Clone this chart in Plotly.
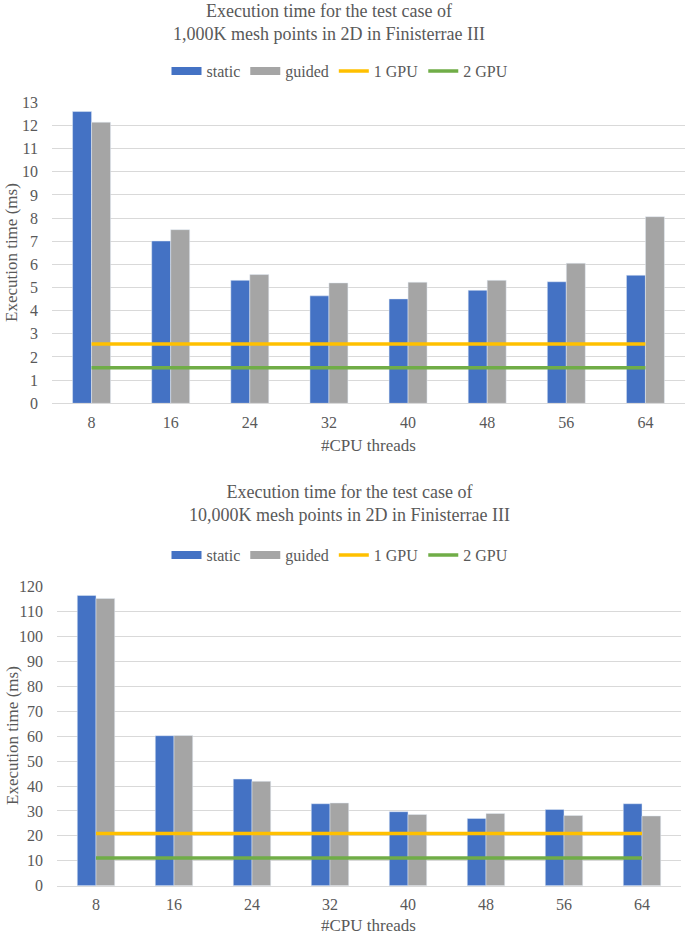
import plotly.graph_objects as go

threads = ["8", "16", "24", "32", "40", "48", "56", "64"]

static_1k = [12.6, 7.01, 5.31, 4.64, 4.51, 4.88, 5.25, 5.53]
guided_1k = [12.14, 7.50, 5.56, 5.20, 5.23, 5.31, 6.05, 8.06]
gpu1_1k = [2.56] * 8
gpu2_1k = [1.54] * 8

static_10k = [116.5, 60.2, 42.8, 32.9, 29.7, 27.0, 30.6, 32.9]
guided_10k = [115.3, 60.3, 41.9, 33.2, 28.6, 29.0, 28.2, 28.0]
gpu1_10k = [21.0] * 8
gpu2_10k = [11.1] * 8

title_top = "Execution time for the test case of<br>1,000K mesh points in 2D in Finisterrae III"
title_bot = "Execution time for the test case of<br>10,000K mesh points in 2D in Finisterrae III"
y_title = "Execution time (ms)"
x_title = "#CPU threads"

BLUE = "#4472C4"
GRAY = "#A5A5A5"
YELLOW = "#FFC000"
GREEN = "#70AD47"
GRID = "#D9D9D9"
TXT = "#595959"
FONT = "Liberation Serif"

W, H = 685, 937

fig = go.Figure()


def add_set(st, gu, g1, g2, xa, ya, leg):
    fig.add_trace(go.Bar(x=threads, y=st, name="static", marker=dict(color=BLUE),
                         xaxis=xa, yaxis=ya, showlegend=False))
    fig.add_trace(go.Bar(x=threads, y=gu, name="guided", marker=dict(color=GRAY),
                         xaxis=xa, yaxis=ya, showlegend=False))
    fig.add_trace(go.Scatter(x=threads, y=g1, name="1 GPU", mode="lines",
                             line=dict(color=YELLOW, width=3.5), xaxis=xa, yaxis=ya,
                             showlegend=False))
    fig.add_trace(go.Scatter(x=threads, y=g2, name="2 GPU", mode="lines",
                             line=dict(color=GREEN, width=3.5), xaxis=xa, yaxis=ya,
                             showlegend=False))
    # legend entries (Excel-style wide swatches)
    for nm, col, w in [("static", BLUE, 8), ("guided", GRAY, 8),
                       ("1 GPU", YELLOW, 3.5), ("2 GPU", GREEN, 3.5)]:
        fig.add_trace(go.Scatter(x=[None], y=[None], name=nm, mode="lines",
                                 line=dict(color=col, width=w), xaxis=xa, yaxis=ya,
                                 legend=leg, showlegend=True, hoverinfo="skip"))


add_set(static_1k, guided_1k, gpu1_1k, gpu2_1k, "x", "y", "legend")
add_set(static_10k, guided_10k, gpu1_10k, gpu2_10k, "x2", "y2", "legend2")


def px_x(p):
    return p / W


def px_y(p):
    return (H - p) / H


axis_font = dict(family=FONT, size=16, color=TXT)

xcommon = dict(type="category", showgrid=False, showline=True, linecolor=GRID, linewidth=1,
               ticks="", tickfont=axis_font, ticklabelstandoff=4, fixedrange=True,
               automargin=False)
ycommon = dict(showgrid=True, gridcolor=GRID, gridwidth=1, zeroline=False, showline=False,
               ticks="", tickfont=axis_font, ticklabelstandoff=13, fixedrange=True,
               automargin=False)

legend_common = dict(orientation="h", x=0.5, xanchor="center", yanchor="middle",
                     font=dict(family=FONT, size=16, color=TXT), itemwidth=30,
                     traceorder="normal", bgcolor="rgba(0,0,0,0)")

fig.update_layout(
    width=W, height=H,
    margin=dict(l=0, r=0, t=0, b=0),
    paper_bgcolor="white", plot_bgcolor="white",
    barmode="group", bargap=0.52, bargroupgap=0,
    font=dict(family=FONT, color=TXT),
    xaxis=dict(domain=[px_x(52), px_x(685)], anchor="y", **xcommon),
    yaxis=dict(domain=[px_y(403.3), px_y(102.3)], anchor="x", range=[0, 13], dtick=1, **ycommon),
    xaxis2=dict(domain=[px_x(57), px_x(681)], anchor="y2", **xcommon),
    yaxis2=dict(domain=[px_y(885.7), px_y(586.7)], anchor="x2", range=[0, 120], dtick=10, **ycommon),
    legend=dict(y=px_y(71), x=px_x(340), **{k: v for k, v in legend_common.items() if k != "x"}),
    legend2=dict(y=px_y(555), x=px_x(340), **{k: v for k, v in legend_common.items() if k != "x"}),
    showlegend=True,
)

annots = [
    dict(text=title_top, x=px_x(329), y=px_y(23), xanchor="center", yanchor="middle",
         font=dict(family=FONT, size=18, color=TXT)),
    dict(text=title_bot, x=px_x(349), y=px_y(503), xanchor="center", yanchor="middle",
         font=dict(family=FONT, size=18, color=TXT)),
    dict(text=y_title, x=px_x(12), y=px_y(253), textangle=-90, xanchor="center", yanchor="middle",
         font=dict(family=FONT, size=17, color=TXT)),
    dict(text=y_title, x=px_x(12), y=px_y(736), textangle=-90, xanchor="center", yanchor="middle",
         font=dict(family=FONT, size=17, color=TXT)),
    dict(text=x_title, x=px_x(368), y=px_y(445), xanchor="center", yanchor="middle",
         font=dict(family=FONT, size=17, color=TXT)),
    dict(text=x_title, x=px_x(368), y=px_y(925), xanchor="center", yanchor="middle",
         font=dict(family=FONT, size=17, color=TXT)),
]
for a in annots:
    a.update(xref="paper", yref="paper", showarrow=False)
fig.update_layout(annotations=annots)

fig.write_html("out.html",
               config={"displayModeBar": False},
               post_script="document.body.style.margin='0';document.body.style.overflow='hidden';")
